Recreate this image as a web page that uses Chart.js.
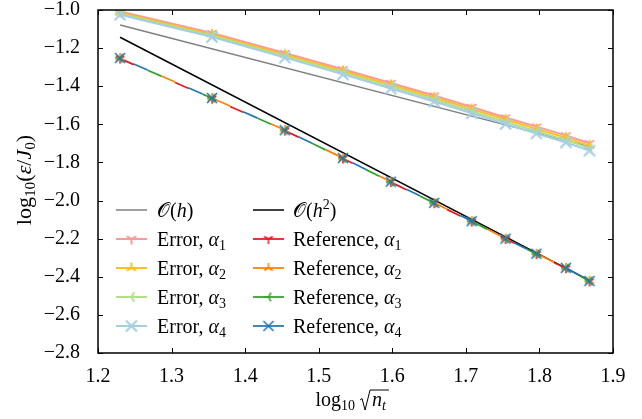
<!DOCTYPE html>
<html>
<head>
<meta charset="utf-8">
<script src="https://cdn.jsdelivr.net/npm/chart.js@4.4.0/dist/chart.umd.min.js"></script>
<style>
  html, body { margin: 0; padding: 0; background: #fff; }
  #wrap { width: 642px; height: 419px; }
</style>
</head>
<body>
<div id="wrap"><canvas id="chart"></canvas></div>
<script>
// log10 sqrt(n_t)
const logSqrtNt = [1.230, 1.355, 1.454, 1.533, 1.598, 1.657, 1.708, 1.754, 1.796, 1.836, 1.868];

// log10(eps/J0), error curves
const errA1 = [-1.008, -1.121, -1.226, -1.311, -1.383, -1.449, -1.509, -1.564, -1.612, -1.658, -1.699];
const errA2 = [-1.014, -1.128, -1.234, -1.320, -1.393, -1.459, -1.520, -1.575, -1.624, -1.670, -1.712];
const errA3 = [-1.019, -1.135, -1.242, -1.329, -1.402, -1.470, -1.531, -1.587, -1.636, -1.683, -1.725];
const errA4 = [-1.025, -1.142, -1.250, -1.338, -1.412, -1.480, -1.542, -1.598, -1.648, -1.695, -1.738];

// reference curves (almost on top of each other)
const refA1 = [-1.255, -1.465, -1.633, -1.779, -1.903, -2.014, -2.110, -2.202, -2.281, -2.355, -2.424];
const refA2 = [-1.252, -1.462, -1.630, -1.777, -1.901, -2.012, -2.108, -2.200, -2.279, -2.353, -2.422];
const refA3 = [-1.253, -1.463, -1.631, -1.778, -1.902, -2.013, -2.109, -2.201, -2.280, -2.354, -2.423];
const refA4 = [-1.252, -1.462, -1.631, -1.777, -1.901, -2.012, -2.108, -2.200, -2.279, -2.353, -2.422];

// slope guides
const guideX = [1.230, 1.868];
const orderH = [-1.079, -1.717];
const orderH2 = [-1.143, -2.419];

const xTicks = [1.2, 1.3, 1.4, 1.5, 1.6, 1.7, 1.8, 1.9];
const xTickLabels = ['1.2', '1.3', '1.4', '1.5', '1.6', '1.7', '1.8', '1.9'];
const yTicks = [-1.0, -1.2, -1.4, -1.6, -1.8, -2.0, -2.2, -2.4, -2.6, -2.8];
const yTickLabels = ['\u22121.0', '\u22121.2', '\u22121.4', '\u22121.6', '\u22121.8', '\u22122.0', '\u22122.2', '\u22122.4', '\u22122.6', '\u22122.8'];

const FONT = '"Liberation Serif", "DejaVu Serif", serif';
const FS = 20;

function marker(kind, color, lw, r) {
    const s = 18, c = s / 2;
    const cv = document.createElement('canvas');
    cv.width = s; cv.height = s;
    const g = cv.getContext('2d');
    g.strokeStyle = color;
    g.lineWidth = lw;
    g.beginPath();
    if (kind === 'x') {
        const d = r * 0.95;
        g.moveTo(c - d, c - d); g.lineTo(c + d, c + d);
        g.moveTo(c - d, c + d); g.lineTo(c + d, c - d);
    } else {
        const arms = { down: [90, 210, 330], up: [270, 30, 150], left: [180, 300, 60] }[kind];
        arms.forEach(a => {
            const t = a * Math.PI / 180;
            g.moveTo(c, c);
            g.lineTo(c + r * Math.cos(t), c + r * Math.sin(t));
        });
    }
    g.stroke();
    return cv;
}

function pts(xs, ys) {
    return xs.map((x, i) => ({ x: x, y: ys[i] }));
}

const series = [
    { label: 'oh', data: pts(guideX, orderH), color: '#808080', width: 1.5 },
    { label: 'e1', data: pts(logSqrtNt, errA1), color: '#fb9a99', width: 2, mk: marker('down', '#fb9a99', 2, 5.5) },
    { label: 'e2', data: pts(logSqrtNt, errA2), color: '#fcc01e', width: 2, mk: marker('up', '#fcc01e', 2, 5.5) },
    { label: 'e3', data: pts(logSqrtNt, errA3), color: '#b2df8a', width: 2, mk: marker('left', '#b2df8a', 2, 5.5) },
    { label: 'e4', data: pts(logSqrtNt, errA4), color: '#a6cee3', width: 2, mk: marker('x', '#a6cee3', 2, 5.8) },
    { label: 'oh2', data: pts(guideX, orderH2), color: '#000000', width: 1.5 },
    { label: 'r1', data: pts(logSqrtNt, refA1), color: '#e31a1c', width: 1.75, mk: marker('down', '#e31a1c', 1.5, 5), dash: 0 },
    { label: 'r2', data: pts(logSqrtNt, refA2), color: '#ff7f00', width: 1.75, mk: marker('up', '#ff7f00', 1.5, 5), dash: -45 },
    { label: 'r3', data: pts(logSqrtNt, refA3), color: '#33a02c', width: 1.75, mk: marker('left', '#33a02c', 1.5, 5), dash: -30 },
    { label: 'r4', data: pts(logSqrtNt, refA4), color: '#1f78b4', width: 1.75, mk: marker('x', '#1f78b4', 1.5, 5.3), dash: -15 }
];

const legendRows = [
    [0, [{ t: '\u{1D4AA}' }, { t: '(' }, { t: 'h', it: true }, { t: ')' }],
     5, [{ t: '\u{1D4AA}' }, { t: '(' }, { t: 'h', it: true }, { t: '2', sup: true }, { t: ')' }]],
    [1, [{ t: 'Error, ' }, { t: '\u03b1', it: true }, { t: '1', sub: true }],
     6, [{ t: 'Reference, ' }, { t: '\u03b1', it: true }, { t: '1', sub: true }]],
    [2, [{ t: 'Error, ' }, { t: '\u03b1', it: true }, { t: '2', sub: true }],
     7, [{ t: 'Reference, ' }, { t: '\u03b1', it: true }, { t: '2', sub: true }]],
    [3, [{ t: 'Error, ' }, { t: '\u03b1', it: true }, { t: '3', sub: true }],
     8, [{ t: 'Reference, ' }, { t: '\u03b1', it: true }, { t: '3', sub: true }]],
    [4, [{ t: 'Error, ' }, { t: '\u03b1', it: true }, { t: '4', sub: true }],
     9, [{ t: 'Reference, ' }, { t: '\u03b1', it: true }, { t: '4', sub: true }]]
];

function partFont(p, size) {
    const s = (p.sub || p.sup) ? size * 0.7 : size;
    return (p.it ? 'italic ' : '') + s + 'px ' + FONT;
}

function drawRich(ctx, parts, x, y, size, align) {
    let w = 0;
    parts.forEach(p => { ctx.font = partFont(p, size); w += ctx.measureText(p.t).width; });
    let cx = align === 'center' ? x - w / 2 : x;
    ctx.textAlign = 'left';
    ctx.textBaseline = 'alphabetic';
    parts.forEach(p => {
        ctx.font = partFont(p, size);
        let dy = 0;
        if (p.sub) dy = size * 0.2;
        if (p.sup) dy = -size * 0.4;
        ctx.fillText(p.t, cx, y + dy);
        cx += ctx.measureText(p.t).width;
    });
    return cx;
}

const decor = {
    id: 'decor',
    afterDraw(chart) {
        const { ctx, chartArea: a, scales: { x, y } } = chart;
        ctx.save();
        ctx.strokeStyle = '#000';
        ctx.lineWidth = 1;
        ctx.beginPath();
        xTicks.forEach(v => {
            const px = Math.round(x.getPixelForValue(v)) + 0.5;
            ctx.moveTo(px, a.bottom); ctx.lineTo(px, a.bottom - 5);
            ctx.moveTo(px, a.top); ctx.lineTo(px, a.top + 5);
        });
        yTicks.forEach(v => {
            const py = Math.round(y.getPixelForValue(v)) + 0.5;
            ctx.moveTo(a.left, py); ctx.lineTo(a.left + 5, py);
            ctx.moveTo(a.right, py); ctx.lineTo(a.right - 5, py);
        });
        ctx.stroke();
        ctx.lineWidth = 1.5;
        ctx.strokeRect(a.left, a.top, a.right - a.left, a.bottom - a.top);

        // legend
        const cols = [{ x0: 116, x1: 147, tx: 157 }, { x0: 253, x1: 284, tx: 293 }];
        legendRows.forEach((row, r) => {
            const ry = 210 + r * 29;
            [[row[0], row[1]], [row[2], row[3]]].forEach((item, k) => {
                const s = series[item[0]];
                const col = cols[k];
                ctx.strokeStyle = s.color;
                ctx.lineWidth = s.width;
                ctx.beginPath();
                ctx.moveTo(col.x0, ry); ctx.lineTo(col.x1, ry);
                ctx.stroke();
                if (s.mk) ctx.drawImage(s.mk, (col.x0 + col.x1) / 2 - s.mk.width / 2, ry - s.mk.height / 2);
                ctx.fillStyle = '#000';
                drawRich(ctx, item[1], col.tx, ry + 7, FS, 'left');
            });
        });

        // x title: log10 sqrt(n_t)
        ctx.fillStyle = '#000';
        const bx = (a.left + a.right) / 2 - 40, by = 406;
        let cx = drawRich(ctx, [{ t: 'log' }, { t: '10', sub: true }], bx, by, FS, 'left') + 5;
        ctx.strokeStyle = '#000';
        ctx.lineWidth = 1;
        ctx.font = 'italic ' + FS + 'px ' + FONT;
        const nw = ctx.measureText('n').width;
        ctx.font = 'italic ' + (FS * 0.7) + 'px ' + FONT;
        const tw = ctx.measureText('t').width;
        ctx.beginPath();
        ctx.moveTo(cx, by - 6);
        ctx.lineTo(cx + 2, by - 7.5);
        ctx.lineTo(cx + 5, by + 4);
        ctx.lineTo(cx + 10, by - 16);
        ctx.lineTo(cx + 14 + nw + tw + 1, by - 16);
        ctx.stroke();
        drawRich(ctx, [{ t: 'n', it: true }, { t: 't', it: true, sub: true }], cx + 12, by, FS, 'left');

        // y title: log10(eps/J0)
        ctx.translate(24, 180);
        ctx.rotate(-Math.PI / 2);
        drawRich(ctx, [{ t: 'log' }, { t: '10', sub: true }, { t: '(' }, { t: '\u03b5', it: true }, { t: '/' },
            { t: 'J', it: true }, { t: '0', sub: true }, { t: ')' }], 0, 7, 22, 'center');
        ctx.restore();
    }
};

new Chart(document.getElementById('chart'), {
    type: 'line',
    data: {
        datasets: series.map((s, i) => ({
            label: s.label,
            data: s.data,
            borderColor: s.color,
            backgroundColor: s.color,
            borderWidth: s.width,
            borderDash: s.dash !== undefined ? [15, 45] : [],
            borderDashOffset: s.dash || 0,
            pointStyle: s.mk || 'circle',
            pointRadius: s.mk ? 6 : 0,
            pointHoverRadius: s.mk ? 6 : 0,
            tension: 0,
            fill: false,
            order: -i
        }))
    },
    options: {
        responsive: true,
        maintainAspectRatio: false,
        animation: false,
        layout: { padding: { top: 10, right: 29, left: 0, bottom: 0 } },
        plugins: {
            legend: { display: false },
            tooltip: { enabled: false }
        },
        scales: {
            x: {
                type: 'linear',
                min: 1.2,
                max: 1.9,
                grid: { display: false },
                border: { display: false },
                afterBuildTicks: s => { s.ticks = xTicks.map(v => ({ value: v })); },
                afterFit: s => { s.height = 66; s.paddingLeft = 0; s.paddingRight = 0; },
                ticks: {
                    padding: 4,
                    color: '#000',
                    maxRotation: 0,
                    font: { family: FONT, size: FS },
                    callback: v => xTickLabels[xTicks.findIndex(t => Math.abs(t - v) < 1e-6)]
                }
            },
            y: {
                type: 'linear',
                min: -2.8,
                max: -1.0,
                grid: { display: false },
                border: { display: false },
                afterBuildTicks: s => { s.ticks = yTicks.map(v => ({ value: v })); },
                afterFit: s => { s.width = 98; s.paddingTop = 0; s.paddingBottom = 0; },
                ticks: {
                    padding: 10,
                    color: '#000',
                    font: { family: FONT, size: FS },
                    callback: v => yTickLabels[yTicks.findIndex(t => Math.abs(t - v) < 1e-6)]
                }
            }
        }
    },
    plugins: [decor]
});
</script>
</body>
</html>
